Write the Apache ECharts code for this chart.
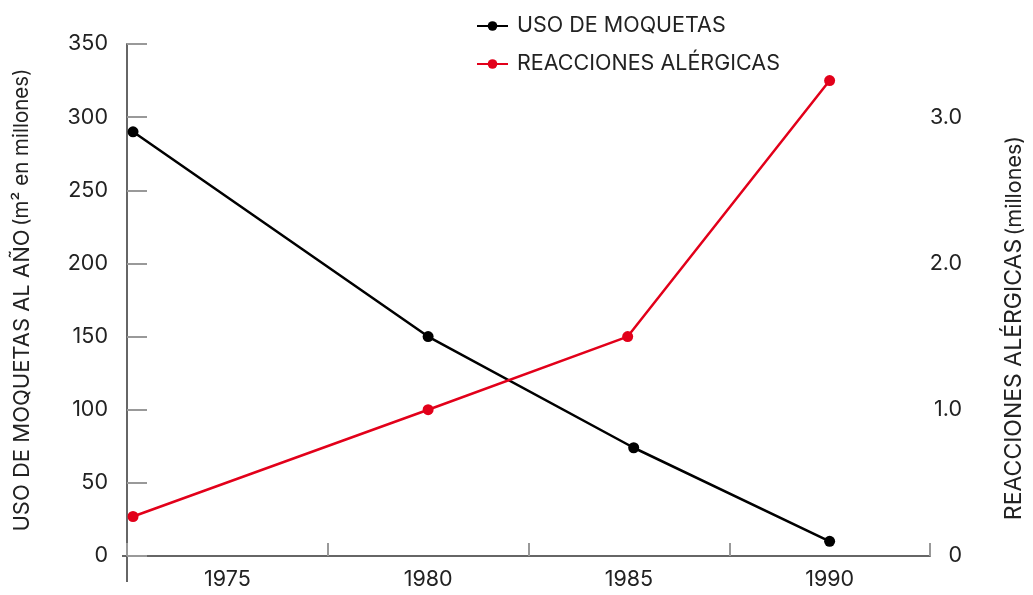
<!DOCTYPE html>
<html>
<head>
<meta charset="utf-8">
<script src="https://cdn.jsdelivr.net/npm/echarts@6/dist/echarts.min.js"></script>
<style>
html,body{margin:0;padding:0;background:#fff;}
#chart{width:1033px;height:595px;}
</style>
</head>
<body>
<div id="chart"></div>
<script>
// Data
const years = [1972.65, 1980, 1985.12, 1990];
const yearsRed = [1972.65, 1980, 1984.97, 1990];
const moquetas = [290, 150, 74, 10];
const reacciones = [0.27, 1.0, 1.5, 3.25];
const seriesNames = ['USO DE MOQUETAS', 'REACCIONES ALÉRGICAS'];
const leftName = 'USO DE MOQUETAS AL AÑO';
const leftUnit = '(m² en millones)';
const rightName = 'REACCIONES ALÉRGICAS';
const rightUnit = '(millones)';

const FONT = 'Inter';
const TXT = '#222';
const LBL = 21.5;

const chart = echarts.init(document.getElementById('chart'), null, {renderer: 'canvas'});

const leftRich = {
  a: {fontFamily: FONT, fontSize: 22, color: TXT},
  b: {fontFamily: FONT, fontSize: 20.5, color: TXT}
};
const rightRich = {
  a: {fontFamily: FONT, fontSize: 23, color: TXT},
  b: {fontFamily: FONT, fontSize: 21.5, color: TXT}
};

const option = {
  animation: false,
  backgroundColor: '#fff',
  textStyle: {fontFamily: FONT},
  grid: {left: 127, right: 103, top: 44, bottom: 39, containLabel: false, outerBoundsMode: 'none'},
  legend: {
    orient: 'vertical', left: 471, top: 10, itemGap: 16,
    itemWidth: 31, itemHeight: 12,
    textStyle: {fontFamily: FONT, fontSize: 21.5, color: TXT, padding: [0,0,0,4]},
    data: seriesNames
  },
  xAxis: [
    {
      type: 'value', min: 1972.5, max: 1992.5, interval: 5,
      axisLine: {show: true, onZero: false, lineStyle: {color: '#666', width: 2}},
      axisTick: {show: true, inside: true, length: 13, lineStyle: {color: '#999', width: 2}},
      axisLabel: {show: false},
      splitLine: {show: false}
    },
    {
      type: 'value', min: 1972.5, max: 1992.5, interval: 2.5, position: 'bottom',
      axisLine: {show: false}, axisTick: {show: false}, splitLine: {show: false},
      axisLabel: {
        margin: 13, fontSize: LBL, color: TXT, fontFamily: FONT,
        formatter: v => (Math.abs(v % 5) < 1e-6 ? String(v) : '')
      }
    }
  ],
  yAxis: [
    {
      type: 'value', min: 0, max: 350, interval: 50, position: 'left',
      name: '{a|' + leftName + '} {b|' + leftUnit + '}',
      nameLocation: 'middle', nameGap: 94,
      nameTextStyle: {rich: leftRich},
      axisLine: {show: true, lineStyle: {color: '#666', width: 2}},
      axisTick: {show: true, inside: true, length: 20, lineStyle: {color: '#999', width: 2}},
      axisLabel: {margin: 19, fontSize: LBL, color: TXT, fontFamily: FONT},
      splitLine: {show: false}
    },
    {
      type: 'value', min: 0, max: 3.5, interval: 1, position: 'right',
      name: '{a|' + rightName + '} {b|' + rightUnit + '}',
      nameLocation: 'middle', nameGap: 73,
      nameTextStyle: {padding: [0, 56, 0, 0], rich: rightRich},
      axisLine: {show: false},
      axisTick: {show: false},
      axisLabel: {
        margin: 32, align: 'right', fontSize: LBL, color: TXT, fontFamily: FONT,
        formatter: v => (v === 0 ? '0' : (Math.abs(v - Math.round(v)) < 1e-6 ? v.toFixed(1) : ''))
      },
      splitLine: {show: false}
    }
  ],
  series: [
    {
      name: seriesNames[0], type: 'line', xAxisIndex: 0, yAxisIndex: 0,
      data: years.map((y, i) => [y, moquetas[i]]),
      symbol: 'circle', symbolSize: 11,
      lineStyle: {color: '#000', width: 2.5},
      itemStyle: {color: '#000'}
    },
    {
      name: seriesNames[1], type: 'line', xAxisIndex: 0, yAxisIndex: 1,
      data: yearsRed.map((y, i) => [y, reacciones[i]]),
      symbol: 'circle', symbolSize: 11,
      lineStyle: {color: '#e2001a', width: 2.5},
      itemStyle: {color: '#e2001a'}
    }
  ]
};

chart.setOption(option);

// axis line extensions (decoration) computed from the axes
const p0 = chart.convertToPixel({xAxisIndex: 0, yAxisIndex: 0}, [1972.5, 0]);
chart.setOption({
  graphic: [
    {type: 'line', shape: {x1: p0[0], y1: p0[1], x2: p0[0], y2: p0[1] + 26}, style: {stroke: '#666', lineWidth: 2}},
    {type: 'line', shape: {x1: p0[0] - 5, y1: p0[1], x2: p0[0], y2: p0[1]}, style: {stroke: '#666', lineWidth: 2}}
  ]
});
</script>
</body>
</html>
